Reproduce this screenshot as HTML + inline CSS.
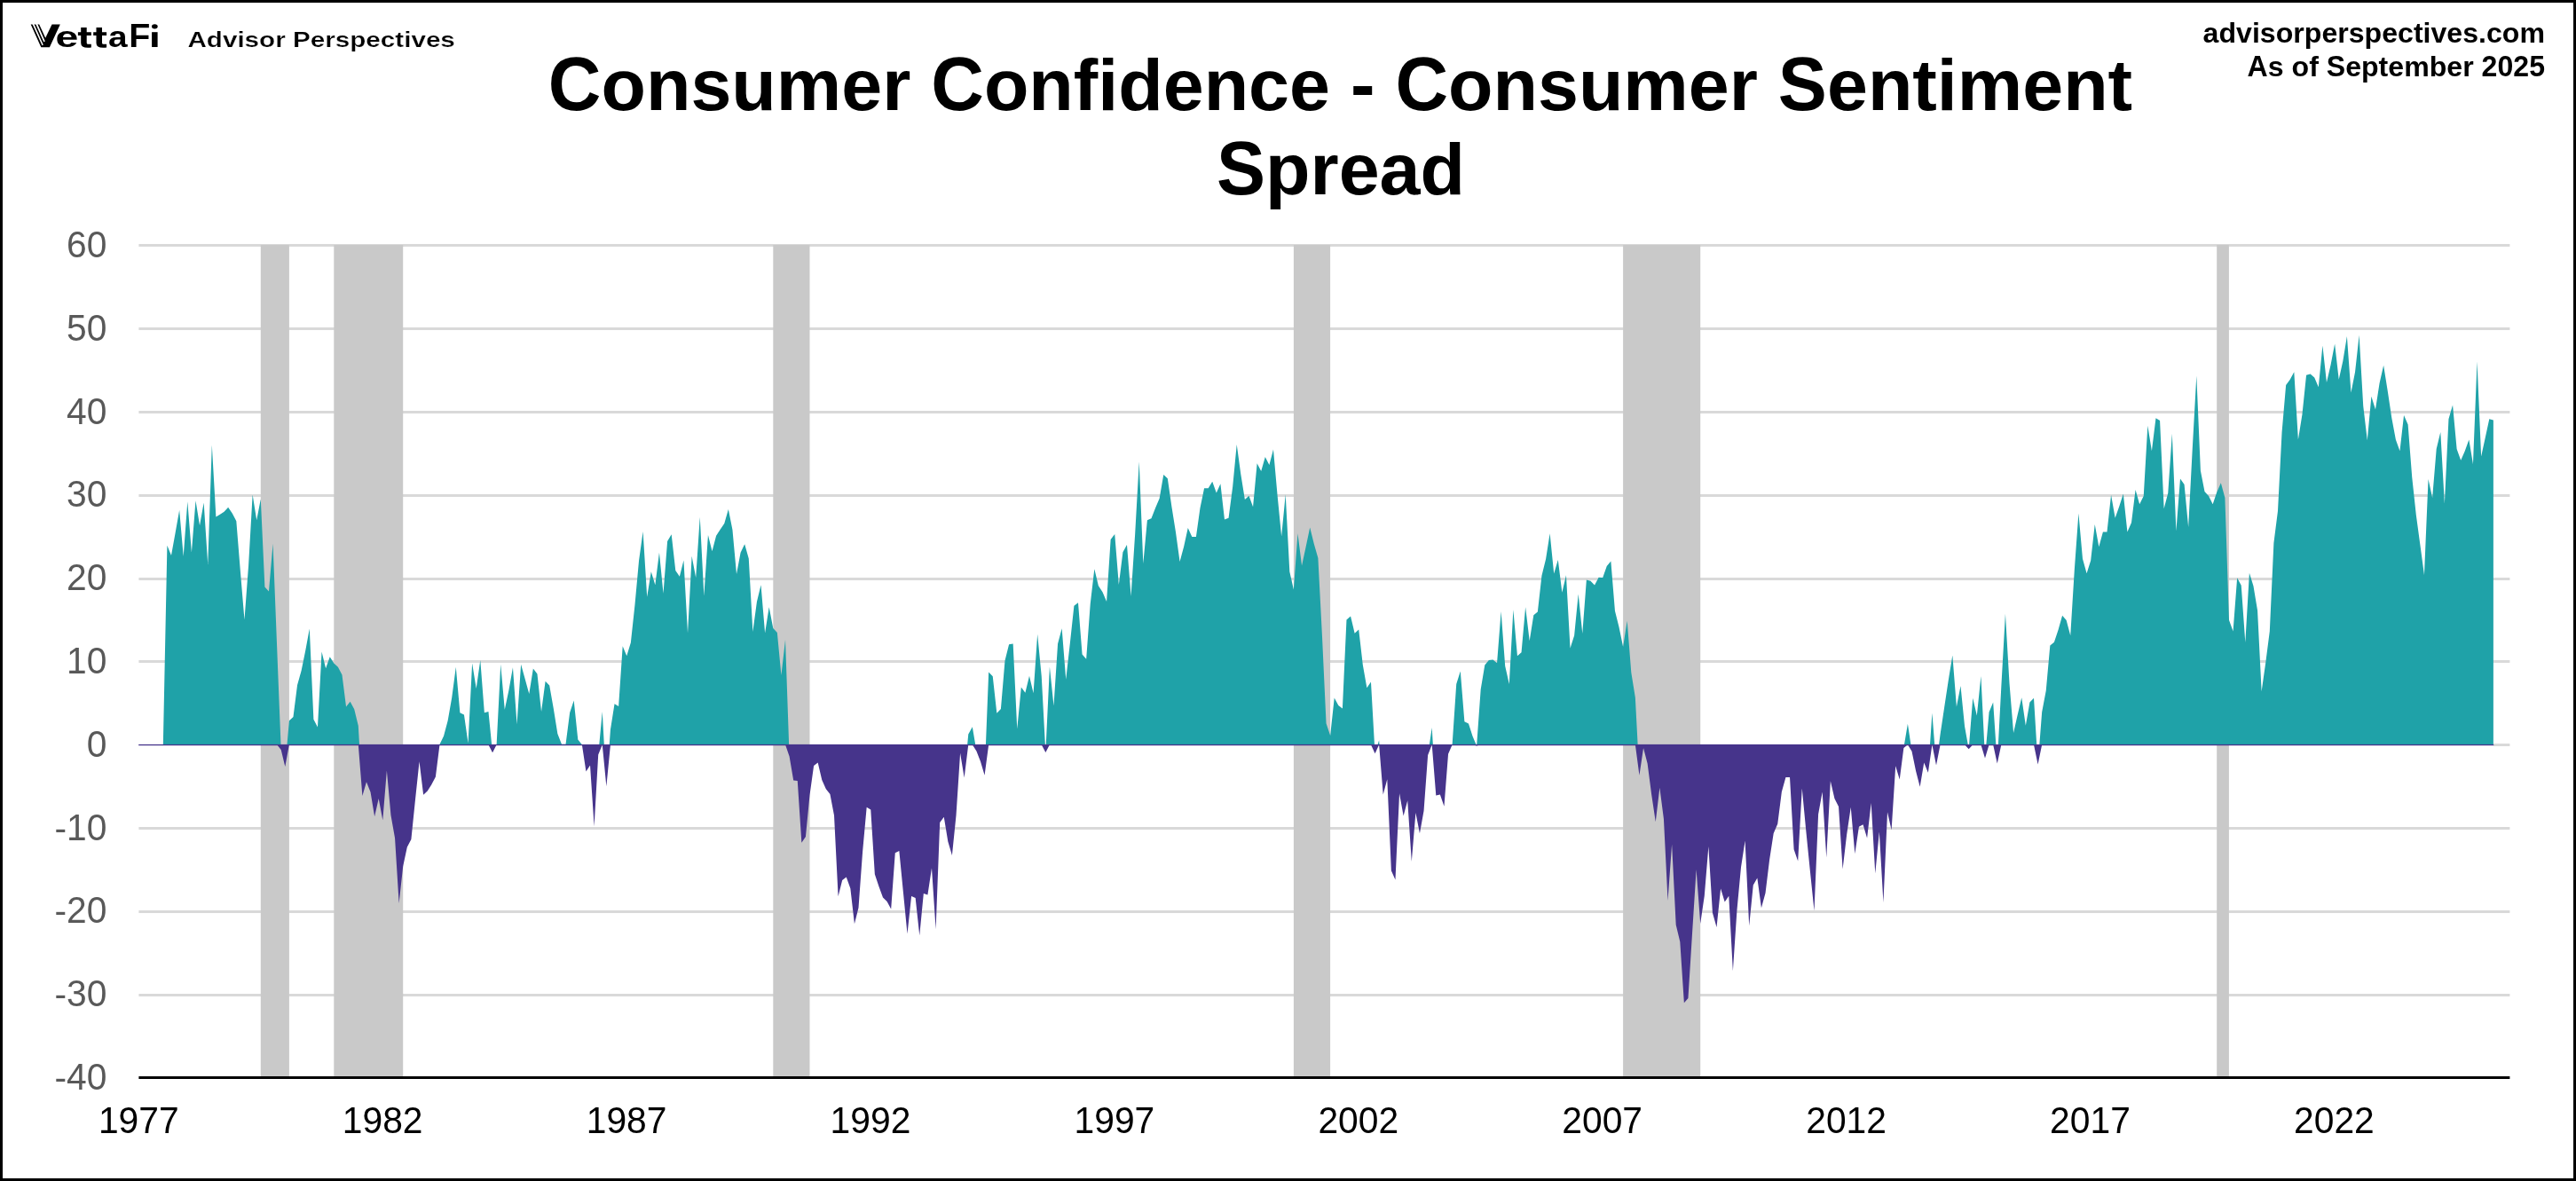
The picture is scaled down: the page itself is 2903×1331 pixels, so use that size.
<!DOCTYPE html>
<html><head><meta charset="utf-8"><style>
html,body{margin:0;padding:0;background:#fff;}
body{width:2903px;height:1331px;overflow:hidden;position:relative;}
#frame{position:absolute;left:0;top:0;width:2903px;height:1331px;box-sizing:border-box;border:3px solid #000;}
svg{position:absolute;left:0;top:0;will-change:transform;}
text{font-family:"Liberation Sans",sans-serif;font-kerning:none;font-variant-ligatures:none;}
</style></head><body>
<svg width="2903" height="1331" viewBox="0 0 2903 1331">
<defs>
<clipPath id="cpos"><rect x="0" y="0" width="2903" height="839.3"/></clipPath>
<clipPath id="cneg"><rect x="0" y="839.3" width="2903" height="1331"/></clipPath>
</defs>
<rect x="156.4" y="275" width="2672" height="3" fill="#d9d9d9"/><rect x="156.4" y="369" width="2672" height="3" fill="#d9d9d9"/><rect x="156.4" y="463" width="2672" height="3" fill="#d9d9d9"/><rect x="156.4" y="557" width="2672" height="3" fill="#d9d9d9"/><rect x="156.4" y="651" width="2672" height="3" fill="#d9d9d9"/><rect x="156.4" y="744" width="2672" height="3" fill="#d9d9d9"/><rect x="156.4" y="932" width="2672" height="3" fill="#d9d9d9"/><rect x="156.4" y="1026" width="2672" height="3" fill="#d9d9d9"/><rect x="156.4" y="1120" width="2672" height="3" fill="#d9d9d9"/><rect x="2810" y="838" width="18.4" height="3" fill="#d9d9d9"/>
<rect x="293.8" y="276" width="32.1" height="937.5" fill="#c9c9c9"/><rect x="376.3" y="276" width="77.9" height="937.5" fill="#c9c9c9"/><rect x="871.3" y="276" width="41.2" height="937.5" fill="#c9c9c9"/><rect x="1457.9" y="276" width="41.2" height="937.5" fill="#c9c9c9"/><rect x="1829.1" y="276" width="87.1" height="937.5" fill="#c9c9c9"/><rect x="2498.2" y="276" width="13.7" height="937.5" fill="#c9c9c9"/>
<path d="M183.82,839.3 188.40,614.7 192.98,625.9 197.57,600.7 202.15,575.1 206.73,626.9 211.31,565.2 215.90,622.6 220.48,564.2 225.06,592.3 229.65,566.5 234.23,635.9 238.81,501.5 243.40,582.4 247.98,579.7 252.56,576.7 257.14,571.8 261.73,578.4 266.31,587.3 270.89,644.0 275.48,698.6 280.06,637.5 284.64,557.6 289.23,586.3 293.81,562.5 298.39,661.6 302.98,666.6 307.56,612.7 312.14,729.0 316.72,845.0 321.31,864.0 325.89,812.2 330.47,807.9 335.06,772.0 339.64,755.8 344.22,733.3 348.81,708.6 353.39,810.8 357.97,819.4 362.55,734.5 367.14,753.2 371.72,740.3 376.30,747.5 380.89,751.8 385.47,760.4 390.05,796.4 394.63,790.7 399.22,799.3 403.80,818.0 408.38,897.1 412.97,881.3 417.55,892.8 422.13,920.2 426.72,900.0 431.30,924.5 435.88,868.4 440.47,918.7 445.05,944.6 449.63,1018.0 454.21,976.3 458.80,954.7 463.38,946.1 467.96,901.5 472.55,858.3 477.13,895.7 481.71,891.4 486.30,884.2 490.88,875.6 495.46,839.0 500.04,829.5 504.63,812.2 509.21,786.3 513.79,751.8 518.38,803.2 522.96,805.6 527.54,837.6 532.12,747.5 536.71,776.0 541.29,744.0 545.87,803.2 550.46,802.1 555.04,848.3 559.62,839.3 564.21,748.7 568.79,799.7 573.37,778.0 577.96,752.3 582.54,816.3 587.12,748.7 591.70,765.3 596.29,781.9 600.87,753.5 605.45,759.4 610.04,802.1 614.62,767.7 619.20,772.4 623.78,798.5 628.37,826.9 632.95,838.8 637.53,838.8 642.12,803.2 646.70,789.5 651.28,833.6 655.87,839.3 660.45,869.6 665.03,862.5 669.62,931.2 674.20,850.6 678.78,802.1 683.36,886.2 687.95,822.2 692.53,793.3 697.11,796.1 701.70,728.3 706.28,739.2 710.86,724.3 715.45,681.7 720.03,632.1 724.61,599.1 729.19,672.8 733.78,644.3 738.36,659.2 742.94,622.7 747.53,668.7 752.11,609.9 756.69,602.3 761.27,643.0 765.86,649.8 770.44,631.6 775.02,713.4 779.61,626.7 784.19,651.1 788.77,582.8 793.36,671.4 797.94,602.9 802.52,621.3 807.11,603.7 811.69,596.7 816.27,590.1 820.85,573.9 825.44,596.9 830.02,647.0 834.60,622.7 839.19,613.2 843.77,629.4 848.35,712.1 852.94,678.2 857.52,659.2 862.10,713.4 866.68,684.2 871.27,708.0 875.85,712.9 880.43,760.9 885.02,721.0 889.60,852.6 894.18,879.6 898.76,880.0 903.35,949.7 907.93,942.9 912.51,896.0 917.10,862.9 921.68,859.4 926.26,878.9 930.85,889.2 935.43,894.9 940.01,918.9 944.60,1010.3 949.18,992.0 953.76,988.6 958.34,1001.2 962.93,1041.2 967.51,1022.9 972.09,960.0 976.68,909.7 981.26,912.5 985.84,985.2 990.42,998.9 995.01,1011.5 999.59,1016.0 1004.17,1024.5 1008.76,961.2 1013.34,958.9 1017.92,1005.7 1022.51,1052.6 1027.09,1009.9 1031.67,1012.1 1036.26,1054.2 1040.84,1006.9 1045.42,1008.5 1050.00,978.3 1054.59,1047.3 1059.17,926.9 1063.75,920.7 1068.34,948.6 1072.92,964.1 1077.50,918.9 1082.09,848.8 1086.67,876.5 1091.25,827.5 1095.83,819.2 1100.42,846.4 1105.00,858.3 1109.58,873.7 1114.17,757.5 1118.75,762.3 1123.33,803.8 1127.91,799.0 1132.50,744.5 1137.08,726.2 1141.66,725.5 1146.25,821.5 1150.83,774.6 1155.41,780.8 1160.00,761.8 1164.58,781.2 1169.16,714.8 1173.75,762.3 1178.33,848.1 1182.91,751.6 1187.49,795.5 1192.08,725.5 1196.66,708.2 1201.24,765.8 1205.83,725.0 1210.41,682.8 1214.99,679.3 1219.58,737.4 1224.16,742.8 1228.74,680.5 1233.32,641.2 1237.91,660.2 1242.49,667.3 1247.07,678.0 1251.66,608.0 1256.24,602.1 1260.82,659.0 1265.41,622.3 1269.99,614.0 1274.57,672.1 1279.15,602.0 1283.74,520.3 1288.32,635.3 1292.90,586.2 1297.49,584.3 1302.07,572.6 1306.65,561.8 1311.24,535.0 1315.82,539.3 1320.40,571.1 1324.98,599.7 1329.57,632.9 1334.15,616.1 1338.73,595.0 1343.32,605.0 1347.90,605.0 1352.48,572.5 1357.07,550.2 1361.65,550.2 1366.23,542.8 1370.81,555.4 1375.40,545.2 1379.98,585.5 1384.56,583.8 1389.15,548.8 1393.73,500.9 1398.31,534.5 1402.90,563.0 1407.48,558.7 1412.06,571.3 1416.64,522.2 1421.23,531.0 1425.81,515.1 1430.39,523.9 1434.98,506.6 1439.56,557.9 1444.14,604.6 1448.73,557.2 1453.31,644.3 1457.89,664.6 1462.47,601.3 1467.06,637.5 1471.64,616.3 1476.22,594.5 1480.81,612.9 1485.39,629.0 1489.97,717.1 1494.56,815.3 1499.14,828.9 1503.72,786.5 1508.30,795.0 1512.89,798.4 1517.47,698.5 1522.05,694.4 1526.64,713.7 1531.22,709.6 1535.80,749.3 1540.39,775.3 1544.97,768.6 1549.55,849.3 1554.13,834.2 1558.72,895.4 1563.30,878.3 1567.88,981.2 1572.47,991.5 1577.05,894.3 1581.63,919.5 1586.22,902.3 1590.80,970.9 1595.38,916.0 1599.96,939.3 1604.55,913.7 1609.13,850.9 1613.71,820.0 1618.30,896.6 1622.88,895.4 1627.46,908.7 1632.05,849.7 1636.63,839.0 1641.21,770.9 1645.79,756.5 1650.38,813.2 1654.96,815.4 1659.54,829.8 1664.13,840.6 1668.71,776.8 1673.29,749.5 1677.88,744.1 1682.46,743.6 1687.04,747.2 1691.62,689.1 1696.21,750.7 1700.79,770.9 1705.37,687.2 1709.96,739.3 1714.54,735.3 1719.12,684.3 1723.71,722.3 1728.29,693.3 1732.87,689.5 1737.45,648.8 1742.04,630.3 1746.62,601.3 1751.20,646.4 1755.79,631.0 1760.37,667.7 1764.95,648.3 1769.54,730.6 1774.12,716.3 1778.70,669.6 1783.28,714.0 1787.87,653.5 1792.45,654.7 1797.03,659.4 1801.62,650.7 1806.20,651.1 1810.78,638.1 1815.37,632.6 1819.95,688.6 1824.53,706.8 1829.11,728.9 1833.70,699.7 1838.28,757.8 1842.86,786.3 1847.45,873.7 1852.03,843.0 1856.61,860.6 1861.20,895.7 1865.78,926.2 1870.36,887.8 1874.94,923.0 1879.53,1015.1 1884.11,951.4 1888.69,1042.2 1893.28,1061.2 1897.86,1130.3 1902.44,1124.9 1907.03,1052.0 1911.61,979.9 1916.19,1040.9 1920.77,1009.7 1925.36,954.1 1929.94,1028.7 1934.52,1044.9 1939.11,1001.6 1943.69,1016.5 1948.27,1009.7 1952.86,1094.3 1957.44,1026.0 1962.02,977.2 1966.60,947.4 1971.19,1043.6 1975.77,997.5 1980.35,989.4 1984.94,1023.2 1989.52,1006.4 1994.10,969.0 1998.69,939.2 2003.27,928.4 2007.85,892.4 2012.43,875.9 2017.02,875.9 2021.60,957.2 2026.18,970.6 2030.77,888.6 2035.35,936.7 2039.93,982.2 2044.52,1026.5 2049.10,917.8 2053.68,892.4 2058.26,966.6 2062.85,880.2 2067.43,900.0 2072.01,908.9 2076.60,979.5 2081.18,940.5 2085.76,909.7 2090.35,962.2 2094.93,931.8 2099.51,929.2 2104.09,944.5 2108.68,905.1 2113.26,984.6 2117.84,937.6 2122.43,1016.9 2127.01,915.3 2131.59,935.6 2136.18,863.2 2140.76,878.4 2145.34,842.9 2149.92,815.7 2154.51,846.7 2159.09,869.1 2163.67,886.8 2168.26,859.4 2172.84,870.8 2177.42,803.5 2182.01,862.5 2186.59,827.5 2191.17,797.1 2195.75,766.7 2200.34,738.6 2204.92,796.5 2209.50,773.1 2214.09,818.8 2218.67,844.2 2223.25,786.7 2227.84,806.6 2232.42,761.9 2237.00,854.4 2241.58,802.6 2246.17,791.4 2250.75,860.5 2255.33,773.8 2259.92,691.8 2264.50,770.0 2269.08,825.9 2273.66,805.8 2278.25,786.3 2282.83,817.8 2287.41,791.4 2292.00,786.7 2296.58,861.5 2301.16,802.6 2305.75,778.2 2310.33,727.4 2314.91,723.7 2319.50,710.1 2324.08,693.8 2328.66,698.9 2333.24,716.2 2337.83,641.8 2342.41,578.4 2346.99,629.8 2351.58,646.2 2356.16,631.8 2360.74,590.9 2365.33,616.2 2369.91,599.4 2374.49,599.4 2379.07,557.7 2383.66,583.8 2388.24,570.7 2392.82,556.6 2397.41,599.4 2401.99,588.9 2406.57,551.9 2411.16,568.3 2415.74,558.9 2420.32,479.8 2424.90,508.3 2429.49,471.3 2434.07,474.0 2438.65,573.3 2443.24,555.8 2447.82,488.8 2452.40,598.6 2456.99,539.4 2461.57,546.1 2466.15,594.0 2470.73,506.2 2475.32,423.4 2479.90,530.5 2484.48,553.9 2489.07,558.9 2493.65,568.3 2498.23,554.8 2502.82,544.2 2507.40,561.1 2511.98,698.7 2516.56,711.4 2521.15,651.3 2525.73,659.8 2530.31,724.1 2534.90,645.8 2539.48,660.6 2544.06,688.1 2548.64,779.2 2553.23,746.9 2557.81,711.4 2562.39,611.9 2566.98,575.9 2571.56,487.0 2576.14,434.1 2580.73,427.7 2585.31,419.3 2589.89,495.5 2594.48,467.1 2599.06,422.7 2603.64,421.4 2608.22,425.6 2612.81,436.2 2617.39,389.6 2621.97,431.1 2626.56,411.3 2631.14,387.5 2635.72,427.7 2640.31,407.1 2644.89,379.1 2649.47,442.6 2654.05,419.3 2658.64,377.8 2663.22,457.4 2667.80,496.3 2672.39,446.8 2676.97,461.6 2681.55,432.0 2686.14,411.7 2690.72,440.4 2695.30,470.9 2699.88,495.5 2704.47,508.2 2709.05,468.0 2713.63,478.6 2718.22,537.8 2722.80,580.2 2727.38,614.0 2731.97,647.9 2736.55,539.9 2741.13,561.1 2745.71,506.1 2750.30,487.0 2754.88,567.5 2759.46,472.2 2764.05,456.5 2768.63,506.1 2773.21,518.8 2777.80,508.2 2782.38,495.5 2786.96,523.0 2791.54,407.4 2796.13,514.5 2800.71,493.4 2805.29,472.2 2809.88,473.5 L2809.88,839.3 L183.82,839.3 Z" fill="#1fa2a8" clip-path="url(#cpos)"/>
<path d="M183.82,839.3 188.40,839.3 192.98,839.3 197.57,839.3 202.15,839.3 206.73,839.3 211.31,839.3 215.90,839.3 220.48,839.3 225.06,839.3 229.65,839.3 234.23,839.3 238.81,839.3 243.40,839.3 247.98,839.3 252.56,839.3 257.14,839.3 261.73,839.3 266.31,839.3 270.89,839.3 275.48,839.3 280.06,839.3 284.64,839.3 289.23,839.3 293.81,839.3 298.39,839.3 302.98,839.3 307.56,839.3 312.14,839.3 316.72,845.0 321.31,864.0 325.89,839.3 330.47,839.3 335.06,839.3 339.64,839.3 344.22,839.3 348.81,839.3 353.39,839.3 357.97,839.3 362.55,839.3 367.14,839.3 371.72,839.3 376.30,839.3 380.89,839.3 385.47,839.3 390.05,839.3 394.63,839.3 399.22,839.3 403.80,839.3 408.38,897.1 412.97,881.3 417.55,892.8 422.13,920.2 426.72,900.0 431.30,924.5 435.88,868.4 440.47,918.7 445.05,944.6 449.63,1018.0 454.21,976.3 458.80,954.7 463.38,946.1 467.96,901.5 472.55,858.3 477.13,895.7 481.71,891.4 486.30,884.2 490.88,875.6 495.46,839.3 500.04,839.3 504.63,839.3 509.21,839.3 513.79,839.3 518.38,839.3 522.96,839.3 527.54,839.3 532.12,839.3 536.71,839.3 541.29,839.3 545.87,839.3 550.46,839.3 555.04,848.3 559.62,839.3 564.21,839.3 568.79,839.3 573.37,839.3 577.96,839.3 582.54,839.3 587.12,839.3 591.70,839.3 596.29,839.3 600.87,839.3 605.45,839.3 610.04,839.3 614.62,839.3 619.20,839.3 623.78,839.3 628.37,839.3 632.95,839.3 637.53,839.3 642.12,839.3 646.70,839.3 651.28,839.3 655.87,839.3 660.45,869.6 665.03,862.5 669.62,931.2 674.20,850.6 678.78,839.3 683.36,886.2 687.95,839.3 692.53,839.3 697.11,839.3 701.70,839.3 706.28,839.3 710.86,839.3 715.45,839.3 720.03,839.3 724.61,839.3 729.19,839.3 733.78,839.3 738.36,839.3 742.94,839.3 747.53,839.3 752.11,839.3 756.69,839.3 761.27,839.3 765.86,839.3 770.44,839.3 775.02,839.3 779.61,839.3 784.19,839.3 788.77,839.3 793.36,839.3 797.94,839.3 802.52,839.3 807.11,839.3 811.69,839.3 816.27,839.3 820.85,839.3 825.44,839.3 830.02,839.3 834.60,839.3 839.19,839.3 843.77,839.3 848.35,839.3 852.94,839.3 857.52,839.3 862.10,839.3 866.68,839.3 871.27,839.3 875.85,839.3 880.43,839.3 885.02,839.3 889.60,852.6 894.18,879.6 898.76,880.0 903.35,949.7 907.93,942.9 912.51,896.0 917.10,862.9 921.68,859.4 926.26,878.9 930.85,889.2 935.43,894.9 940.01,918.9 944.60,1010.3 949.18,992.0 953.76,988.6 958.34,1001.2 962.93,1041.2 967.51,1022.9 972.09,960.0 976.68,909.7 981.26,912.5 985.84,985.2 990.42,998.9 995.01,1011.5 999.59,1016.0 1004.17,1024.5 1008.76,961.2 1013.34,958.9 1017.92,1005.7 1022.51,1052.6 1027.09,1009.9 1031.67,1012.1 1036.26,1054.2 1040.84,1006.9 1045.42,1008.5 1050.00,978.3 1054.59,1047.3 1059.17,926.9 1063.75,920.7 1068.34,948.6 1072.92,964.1 1077.50,918.9 1082.09,848.8 1086.67,876.5 1091.25,839.3 1095.83,839.3 1100.42,846.4 1105.00,858.3 1109.58,873.7 1114.17,839.3 1118.75,839.3 1123.33,839.3 1127.91,839.3 1132.50,839.3 1137.08,839.3 1141.66,839.3 1146.25,839.3 1150.83,839.3 1155.41,839.3 1160.00,839.3 1164.58,839.3 1169.16,839.3 1173.75,839.3 1178.33,848.1 1182.91,839.3 1187.49,839.3 1192.08,839.3 1196.66,839.3 1201.24,839.3 1205.83,839.3 1210.41,839.3 1214.99,839.3 1219.58,839.3 1224.16,839.3 1228.74,839.3 1233.32,839.3 1237.91,839.3 1242.49,839.3 1247.07,839.3 1251.66,839.3 1256.24,839.3 1260.82,839.3 1265.41,839.3 1269.99,839.3 1274.57,839.3 1279.15,839.3 1283.74,839.3 1288.32,839.3 1292.90,839.3 1297.49,839.3 1302.07,839.3 1306.65,839.3 1311.24,839.3 1315.82,839.3 1320.40,839.3 1324.98,839.3 1329.57,839.3 1334.15,839.3 1338.73,839.3 1343.32,839.3 1347.90,839.3 1352.48,839.3 1357.07,839.3 1361.65,839.3 1366.23,839.3 1370.81,839.3 1375.40,839.3 1379.98,839.3 1384.56,839.3 1389.15,839.3 1393.73,839.3 1398.31,839.3 1402.90,839.3 1407.48,839.3 1412.06,839.3 1416.64,839.3 1421.23,839.3 1425.81,839.3 1430.39,839.3 1434.98,839.3 1439.56,839.3 1444.14,839.3 1448.73,839.3 1453.31,839.3 1457.89,839.3 1462.47,839.3 1467.06,839.3 1471.64,839.3 1476.22,839.3 1480.81,839.3 1485.39,839.3 1489.97,839.3 1494.56,839.3 1499.14,839.3 1503.72,839.3 1508.30,839.3 1512.89,839.3 1517.47,839.3 1522.05,839.3 1526.64,839.3 1531.22,839.3 1535.80,839.3 1540.39,839.3 1544.97,839.3 1549.55,849.3 1554.13,839.3 1558.72,895.4 1563.30,878.3 1567.88,981.2 1572.47,991.5 1577.05,894.3 1581.63,919.5 1586.22,902.3 1590.80,970.9 1595.38,916.0 1599.96,939.3 1604.55,913.7 1609.13,850.9 1613.71,839.3 1618.30,896.6 1622.88,895.4 1627.46,908.7 1632.05,849.7 1636.63,839.3 1641.21,839.3 1645.79,839.3 1650.38,839.3 1654.96,839.3 1659.54,839.3 1664.13,840.6 1668.71,839.3 1673.29,839.3 1677.88,839.3 1682.46,839.3 1687.04,839.3 1691.62,839.3 1696.21,839.3 1700.79,839.3 1705.37,839.3 1709.96,839.3 1714.54,839.3 1719.12,839.3 1723.71,839.3 1728.29,839.3 1732.87,839.3 1737.45,839.3 1742.04,839.3 1746.62,839.3 1751.20,839.3 1755.79,839.3 1760.37,839.3 1764.95,839.3 1769.54,839.3 1774.12,839.3 1778.70,839.3 1783.28,839.3 1787.87,839.3 1792.45,839.3 1797.03,839.3 1801.62,839.3 1806.20,839.3 1810.78,839.3 1815.37,839.3 1819.95,839.3 1824.53,839.3 1829.11,839.3 1833.70,839.3 1838.28,839.3 1842.86,839.3 1847.45,873.7 1852.03,843.0 1856.61,860.6 1861.20,895.7 1865.78,926.2 1870.36,887.8 1874.94,923.0 1879.53,1015.1 1884.11,951.4 1888.69,1042.2 1893.28,1061.2 1897.86,1130.3 1902.44,1124.9 1907.03,1052.0 1911.61,979.9 1916.19,1040.9 1920.77,1009.7 1925.36,954.1 1929.94,1028.7 1934.52,1044.9 1939.11,1001.6 1943.69,1016.5 1948.27,1009.7 1952.86,1094.3 1957.44,1026.0 1962.02,977.2 1966.60,947.4 1971.19,1043.6 1975.77,997.5 1980.35,989.4 1984.94,1023.2 1989.52,1006.4 1994.10,969.0 1998.69,939.2 2003.27,928.4 2007.85,892.4 2012.43,875.9 2017.02,875.9 2021.60,957.2 2026.18,970.6 2030.77,888.6 2035.35,936.7 2039.93,982.2 2044.52,1026.5 2049.10,917.8 2053.68,892.4 2058.26,966.6 2062.85,880.2 2067.43,900.0 2072.01,908.9 2076.60,979.5 2081.18,940.5 2085.76,909.7 2090.35,962.2 2094.93,931.8 2099.51,929.2 2104.09,944.5 2108.68,905.1 2113.26,984.6 2117.84,937.6 2122.43,1016.9 2127.01,915.3 2131.59,935.6 2136.18,863.2 2140.76,878.4 2145.34,842.9 2149.92,839.3 2154.51,846.7 2159.09,869.1 2163.67,886.8 2168.26,859.4 2172.84,870.8 2177.42,839.3 2182.01,862.5 2186.59,839.3 2191.17,839.3 2195.75,839.3 2200.34,839.3 2204.92,839.3 2209.50,839.3 2214.09,839.3 2218.67,844.2 2223.25,839.3 2227.84,839.3 2232.42,839.3 2237.00,854.4 2241.58,839.3 2246.17,839.3 2250.75,860.5 2255.33,839.3 2259.92,839.3 2264.50,839.3 2269.08,839.3 2273.66,839.3 2278.25,839.3 2282.83,839.3 2287.41,839.3 2292.00,839.3 2296.58,861.5 2301.16,839.3 2305.75,839.3 2310.33,839.3 2314.91,839.3 2319.50,839.3 2324.08,839.3 2328.66,839.3 2333.24,839.3 2337.83,839.3 2342.41,839.3 2346.99,839.3 2351.58,839.3 2356.16,839.3 2360.74,839.3 2365.33,839.3 2369.91,839.3 2374.49,839.3 2379.07,839.3 2383.66,839.3 2388.24,839.3 2392.82,839.3 2397.41,839.3 2401.99,839.3 2406.57,839.3 2411.16,839.3 2415.74,839.3 2420.32,839.3 2424.90,839.3 2429.49,839.3 2434.07,839.3 2438.65,839.3 2443.24,839.3 2447.82,839.3 2452.40,839.3 2456.99,839.3 2461.57,839.3 2466.15,839.3 2470.73,839.3 2475.32,839.3 2479.90,839.3 2484.48,839.3 2489.07,839.3 2493.65,839.3 2498.23,839.3 2502.82,839.3 2507.40,839.3 2511.98,839.3 2516.56,839.3 2521.15,839.3 2525.73,839.3 2530.31,839.3 2534.90,839.3 2539.48,839.3 2544.06,839.3 2548.64,839.3 2553.23,839.3 2557.81,839.3 2562.39,839.3 2566.98,839.3 2571.56,839.3 2576.14,839.3 2580.73,839.3 2585.31,839.3 2589.89,839.3 2594.48,839.3 2599.06,839.3 2603.64,839.3 2608.22,839.3 2612.81,839.3 2617.39,839.3 2621.97,839.3 2626.56,839.3 2631.14,839.3 2635.72,839.3 2640.31,839.3 2644.89,839.3 2649.47,839.3 2654.05,839.3 2658.64,839.3 2663.22,839.3 2667.80,839.3 2672.39,839.3 2676.97,839.3 2681.55,839.3 2686.14,839.3 2690.72,839.3 2695.30,839.3 2699.88,839.3 2704.47,839.3 2709.05,839.3 2713.63,839.3 2718.22,839.3 2722.80,839.3 2727.38,839.3 2731.97,839.3 2736.55,839.3 2741.13,839.3 2745.71,839.3 2750.30,839.3 2754.88,839.3 2759.46,839.3 2764.05,839.3 2768.63,839.3 2773.21,839.3 2777.80,839.3 2782.38,839.3 2786.96,839.3 2791.54,839.3 2796.13,839.3 2800.71,839.3 2805.29,839.3 2809.88,839.3 L2809.88,839.3 L183.82,839.3 Z" fill="#46348b"/>
<rect x="156.2" y="838.9" width="2654" height="1.3" fill="#46348b"/>
<rect x="156.4" y="1213" width="2672" height="3" fill="#000"/>
<text x="75.02" y="278.63" font-size="40.80" font-weight="normal" fill="#595959" transform="scale(1 1.0405)">60</text><text x="75.02" y="368.78" font-size="40.80" font-weight="normal" fill="#595959" transform="scale(1 1.0405)">50</text><text x="75.02" y="458.93" font-size="40.80" font-weight="normal" fill="#595959" transform="scale(1 1.0405)">40</text><text x="75.02" y="549.09" font-size="40.80" font-weight="normal" fill="#595959" transform="scale(1 1.0405)">30</text><text x="75.02" y="639.24" font-size="40.80" font-weight="normal" fill="#595959" transform="scale(1 1.0405)">20</text><text x="75.02" y="729.39" font-size="40.80" font-weight="normal" fill="#595959" transform="scale(1 1.0405)">10</text><text x="97.71" y="819.55" font-size="40.80" font-weight="normal" fill="#595959" transform="scale(1 1.0405)">0</text><text x="61.43" y="946.50" font-size="40.80" font-weight="normal" fill="#595959" transform="scale(1 1.0000)">-</text><text x="75.02" y="909.70" font-size="40.80" font-weight="normal" fill="#595959" transform="scale(1 1.0405)">10</text><text x="61.43" y="1040.30" font-size="40.80" font-weight="normal" fill="#595959" transform="scale(1 1.0000)">-</text><text x="75.02" y="999.85" font-size="40.80" font-weight="normal" fill="#595959" transform="scale(1 1.0405)">20</text><text x="61.43" y="1134.10" font-size="40.80" font-weight="normal" fill="#595959" transform="scale(1 1.0000)">-</text><text x="75.02" y="1090.00" font-size="40.80" font-weight="normal" fill="#595959" transform="scale(1 1.0405)">30</text><text x="61.43" y="1227.90" font-size="40.80" font-weight="normal" fill="#595959" transform="scale(1 1.0000)">-</text><text x="75.02" y="1180.16" font-size="40.80" font-weight="normal" fill="#595959" transform="scale(1 1.0405)">40</text>
<text x="110.92" y="1227.16" font-size="40.80" font-weight="normal" fill="#000" transform="scale(1 1.0405)">1977</text><text x="385.82" y="1227.16" font-size="40.80" font-weight="normal" fill="#000" transform="scale(1 1.0405)">1982</text><text x="660.72" y="1227.16" font-size="40.80" font-weight="normal" fill="#000" transform="scale(1 1.0405)">1987</text><text x="935.62" y="1227.16" font-size="40.80" font-weight="normal" fill="#000" transform="scale(1 1.0405)">1992</text><text x="1210.52" y="1227.16" font-size="40.80" font-weight="normal" fill="#000" transform="scale(1 1.0405)">1997</text><text x="1485.42" y="1227.16" font-size="40.80" font-weight="normal" fill="#000" transform="scale(1 1.0405)">2002</text><text x="1760.32" y="1227.16" font-size="40.80" font-weight="normal" fill="#000" transform="scale(1 1.0405)">2007</text><text x="2035.22" y="1227.16" font-size="40.80" font-weight="normal" fill="#000" transform="scale(1 1.0405)">2012</text><text x="2310.12" y="1227.16" font-size="40.80" font-weight="normal" fill="#000" transform="scale(1 1.0405)">2017</text><text x="2585.02" y="1227.16" font-size="40.80" font-weight="normal" fill="#000" transform="scale(1 1.0405)">2022</text>
<text x="617.85" y="119.08" font-size="82.60" font-weight="bold" fill="#000" transform="scale(1 1.0405)">C</text><text x="677.50" y="125.79" font-size="82.60" font-weight="bold" fill="#000" transform="scale(1 0.9850)">onsumer</text><text x="1049.28" y="119.08" font-size="82.60" font-weight="bold" fill="#000" transform="scale(1 1.0405)">C</text><text x="1108.93" y="125.79" font-size="82.60" font-weight="bold" fill="#000" transform="scale(1 0.9850)">onfidence</text><text x="1521.97" y="123.90" font-size="82.60" font-weight="bold" fill="#000" transform="scale(1 1.0000)">-</text><text x="1572.43" y="119.08" font-size="82.60" font-weight="bold" fill="#000" transform="scale(1 1.0405)">C</text><text x="1632.08" y="125.79" font-size="82.60" font-weight="bold" fill="#000" transform="scale(1 0.9850)">onsumer</text><text x="2003.86" y="119.08" font-size="82.60" font-weight="bold" fill="#000" transform="scale(1 1.0405)">S</text><text x="2058.96" y="125.79" font-size="82.60" font-weight="bold" fill="#000" transform="scale(1 0.9850)">entiment</text><text x="1370.99" y="210.48" font-size="82.60" font-weight="bold" fill="#000" transform="scale(1 1.0405)">S</text><text x="1426.08" y="222.34" font-size="82.60" font-weight="bold" fill="#000" transform="scale(1 0.9850)">pread</text>
<text x="2482.61" y="49.04" font-size="32.10" font-weight="bold" fill="#000" transform="scale(1 0.9850)">advisorperspectives</text><text x="2793.08" y="48.30" font-size="32.10" font-weight="bold" fill="#000" transform="scale(1 1.0000)">.</text><text x="2802.00" y="49.04" font-size="32.10" font-weight="bold" fill="#000" transform="scale(1 0.9850)">com</text><text x="2532.60" y="82.27" font-size="32.10" font-weight="bold" fill="#000" transform="scale(1 1.0405)">A</text><text x="2555.78" y="86.90" font-size="32.10" font-weight="bold" fill="#000" transform="scale(1 0.9850)">s</text><text x="2582.55" y="86.90" font-size="32.10" font-weight="bold" fill="#000" transform="scale(1 0.9850)">of</text><text x="2621.76" y="82.27" font-size="32.10" font-weight="bold" fill="#000" transform="scale(1 1.0405)">S</text><text x="2643.17" y="86.90" font-size="32.10" font-weight="bold" fill="#000" transform="scale(1 0.9850)">eptember</text><text x="2796.59" y="82.27" font-size="32.10" font-weight="bold" fill="#000" transform="scale(1 1.0405)">2025</text>
<g id="logo" fill="#000">
<polygon points="34.7,27.6 44.2,27.6 51.2,42.7 58.55,27.6 67.8,27.6 55.9,53.3 46.3,53.3"/>
<polygon points="36.45,27 38.35,27 48.8,50.5 47.5,51.3" fill="#fff"/>
<polygon points="40.15,27 42.25,27 50.8,46.5 49.3,47.2" fill="#fff"/>
<text font-size="100" font-weight="bold" transform="translate(62.59 53.38) scale(0.4639 0.3231)">e</text><path transform="translate(0.0 0)" d="M91.2 31.1H97.7V36.2H102.8V39.9H97.7V48.2Q97.7 49.7 99.3 49.7H102.8V53.4Q101.2 53.8 98.9 53.8Q91.2 53.8 91.2 48.4V39.9H87.9V36.2H91.2Z"/><path transform="translate(17.3 0)" d="M91.2 31.1H97.7V36.2H102.8V39.9H97.7V48.2Q97.7 49.7 99.3 49.7H102.8V53.4Q101.2 53.8 98.9 53.8Q91.2 53.8 91.2 48.4V39.9H87.9V36.2H91.2Z"/><text font-size="100" font-weight="bold" transform="translate(121.96 53.38) scale(0.3882 0.3231)">a</text><text font-size="100" font-weight="bold" transform="translate(145.16 53.00) scale(0.3942 0.3663)">F</text><rect x="171.1" y="36.2" width="6.5" height="16.8"/><ellipse cx="174.35" cy="29.8" rx="3.35" ry="2.65"/>
</g>
<text x="0" y="0" font-size="24.4" font-weight="bold" fill="#000" stroke="#fff" stroke-width="0.25" transform="translate(211.4 53.35) scale(1.215 1)">Advisor Perspectives</text>
</svg>
<div id="frame"></div>
</body></html>
